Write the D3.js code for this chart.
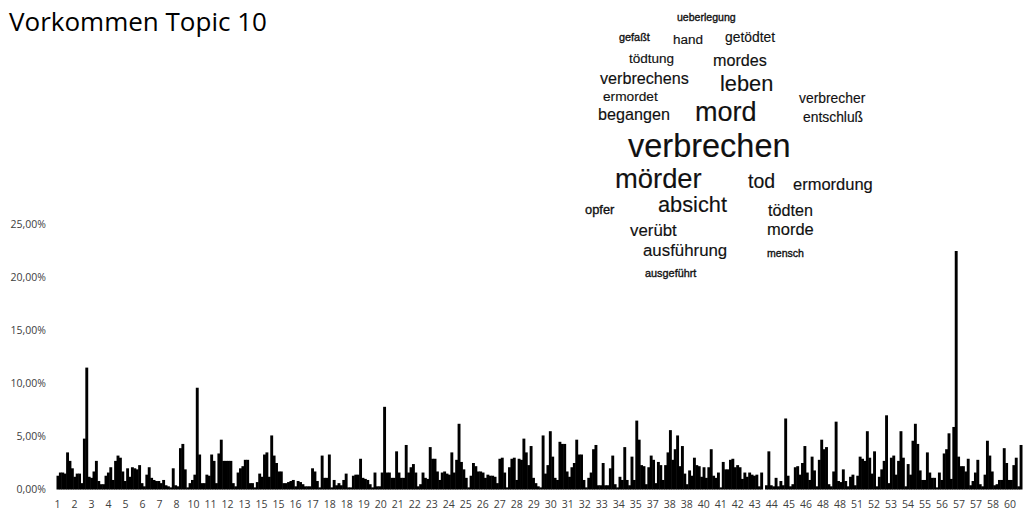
<!DOCTYPE html>
<html><head><meta charset="utf-8">
<script src="https://cdn.jsdelivr.net/npm/d3@7"></script>
<style>body{margin:0;background:#fff} svg{display:block}</style>
</head><body><svg id="c" width="1025" height="510"></svg>
<script>
const title = "Vorkommen Topic 10";

// share of topic 10 per text segment, in percent
const shareValues = [
1.3,1.6,1.6,1.5,3.5,2.7,2.0,1.2,1.5,1.5,0.6,4.8,11.5,1.2,1.1,1.7,2.7,0.8,0.5,0.5,1.3,
1.6,2.1,0.9,2.7,3.2,3.0,1.7,0.8,2.0,1.2,2.1,2.0,1.9,2.3,0.6,0.3,1.4,2.1,1.1,0.9,
0.8,0.8,0.6,0.9,0.4,0.3,0.2,2.0,0.4,0.3,3.9,4.3,1.9,0.2,0.6,0.9,1.4,9.6,3.3,0.6,
0.6,1.4,1.3,3.3,2.7,0.6,3.4,4.7,2.7,2.7,2.7,2.7,0.6,0.3,1.6,2.0,2.2,2.8,2.8,0.6,0.6,0.2,0.7,1.5,
1.2,3.3,3.5,1.2,5.1,3.2,2.5,1.7,1.7,0.6,0.6,0.7,0.8,0.9,0.3,0.8,0.7,0.5,0.3,0.3,0.3,
2.0,1.7,0.8,0.2,3.2,1.1,1.1,3.3,0.2,0.9,0.4,0.6,0.4,0.9,1.5,0.2,0.2,1.3,1.4,1.4,
2.9,1.1,1.0,0.9,0.5,0.2,1.6,0.3,0.3,1.6,7.8,1.6,1.6,1.1,1.1,3.6,1.6,1.1,1.1,4.2,
1.6,2.1,2.4,1.6,0.3,0.5,1.6,1.1,1.0,4.0,2.9,2.9,1.7,0.9,1.6,1.7,1.5,1.4,3.5,1.6,
2.8,6.2,2.6,1.9,1.1,0.2,1.3,2.5,2.2,1.7,1.7,1.6,1.1,1.4,1.3,1.3,1.2,0.6,2.9,3.0,
1.6,0.2,2.1,
2.9,3.0,0.9,2.9,2.8,4.8,3.5,2.3,4.1,1.1,0.6,0.3,0.2,5.1,1.5,2.3,5.5,3.1,1.1,0.9,
4.5,4.3,4.3,1.7,1.2,2.1,2.5,4.7,3.3,3.3,0.9,0.2,1.1,1.6,3.8,4.2,0.4,0.4,2.5,0.4,
0.4,2.0,3.2,0.5,0.2,1.2,0.9,4.0,0.9,0.4,3.1,0.9,6.5,4.7,2.3,2.2,0.5,2.1,3.2,2.8,
0.6,2.6,2.3,0.9,2.3,3.5,5.6,2.8,3.8,5.1,2.2,4.1,1.5,0.5,1.8,1.3,3.0,2.3,2.2,
1.2,2.1,1.1,2.1,3.8,1.3,1.1,1.6,0.2,2.6,1.9,1.9,2.8,2.9,2.1,2.3,2.1,1.0,1.6,
1.2,1.6,1.4,1.3,1.4,0.3,
1.6,0.0,0.4,3.6,0.4,0.3,1.1,0.3,0.8,0.4,6.7,1.3,0.3,0.5,2.1,2.2,1.4,2.5,4.1,1.6,
0.9,3.1,1.8,0.3,2.8,4.7,3.8,4.0,0.5,0.3,1.7,6.4,0.8,0.7,1.9,0.8,0.3,1.2,
1.4,0.4,1.3,3.1,2.9,2.7,5.5,3.0,1.5,3.6,0.3,1.2,1.9,2.7,7.0,0.6,3.0,3.2,1.4,
2.7,5.5,3.0,0.3,2.4,1.4,4.6,6.2,4.3,1.8,0.9,0.9,3.5,1.6,1.1,1.1,0.2,1.6,0.9,3.4,
3.8,5.3,1.0,5.9,22.5,3.1,2.2,2.2,1.7,2.9,0.4,0.8,1.6,2.8,0.5,0.3,1.4,4.6,3.2,1.7,
0.4,0.5,0.9,0.9,3.9,2.5,0.9,0.9,2.3,3.0,0.3,4.2
];

const tickLabels = ["1","2","3","4","5","6","7","8","10","11","12","13","15","15","16","17","18","18","19","20",
"21","22","23","24","25","26","27","28","29","30","31","32","33","34","35","37","38","38","40","41",
"42","43","44","45","46","48","48","51","52","53","54","55","56","57","57","58","60"];

const yTicks = [0,5,10,15,20,25];

const words = ["ueberlegung","gefaßt","hand","getödtet","tödtung","mordes","verbrechens","leben","ermordet",
"verbrecher","begangen","mord","entschluß","verbrechen","mörder","tod","ermordung","opfer","absicht",
"tödten","verübt","morde","ausführung","mensch","ausgeführt"];
const wordWeights = [32,33,41,42,41,49,49,66,41.5,42,49,82,42,98.5,83,59,50,39,66,49,51,50,51,32,33];
// word-cloud placement (left x, baseline y)
const wordLayout = [[677,21],[619,41],[673,44],[725,42],[629,63],[713,66],[600,84],[720,91],[603,101],
[799,103],[598,120],[695,121],[803,122],[628,157],[615,188],[748,188],[793,190],[585,214],[658,212],
[768,216],[630,236],[767,235],[643,256],[767,257],[645,277]];

(function () {
const svg = d3.select("#c");
const plotLeft = 56.5, plotRight = 1022, plotBottom = 489.5, plotTop = 224.5;

const x = d3.scaleBand().domain(d3.range(shareValues.length)).range([plotLeft, plotRight]).padding(0);
const y = d3.scaleLinear().domain([0, 25]).range([plotBottom, plotTop]);
const xl = d3.scalePoint().domain(d3.range(tickLabels.length)).range([57.5, 1010]);
const de = d3.formatLocale({decimal: ",", thousands: ".", grouping: [3], currency: ["", "€"]});
const fmt = v => de.format(".2f")(v) + "%";
const sizeScale = d3.scaleLinear().domain([0, 100]).range([0, 33]);

svg.append("text").attr("x", 9).attr("y", 31)
  .attr("font-family", "'Open Sans', sans-serif").attr("font-size", 26).attr("fill", "#000")
  .text(title);

svg.append("g").selectAll("rect").data(shareValues).join("rect")
  .attr("x", (d, i) => x(i)).attr("width", x.bandwidth() + 0.5)
  .attr("y", d => y(d)).attr("height", d => y(0) - y(d))
  .attr("fill", "#000");

svg.append("g").selectAll("text").data(yTicks).join("text")
  .attr("x", 46).attr("y", d => y(d)).attr("dy", "0.35em")
  .attr("text-anchor", "end")
  .attr("font-family", "'Open Sans', sans-serif").attr("font-size", 10.5).attr("fill", "#404040")
  .text(fmt);

svg.append("g").selectAll("text").data(tickLabels).join("text")
  .attr("x", (d, i) => xl(i)).attr("y", 508)
  .attr("text-anchor", "middle")
  .attr("font-family", "'Open Sans', sans-serif").attr("font-size", 10.5).attr("fill", "#404040")
  .text(d => d);

svg.append("g").selectAll("text").data(words).join("text")
  .attr("x", (d, i) => wordLayout[i][0]).attr("y", (d, i) => wordLayout[i][1])
  .attr("font-family", "'Liberation Sans', Arial, sans-serif")
  .attr("font-size", (d, i) => sizeScale(wordWeights[i]))
  .attr("fill", "#111")
  .attr("stroke", "#111")
  .attr("stroke-width", (d, i) => wordWeights[i] < 40 ? 0.35 : 0.15)
  .text(d => d);
})();
</script>
</body></html>
